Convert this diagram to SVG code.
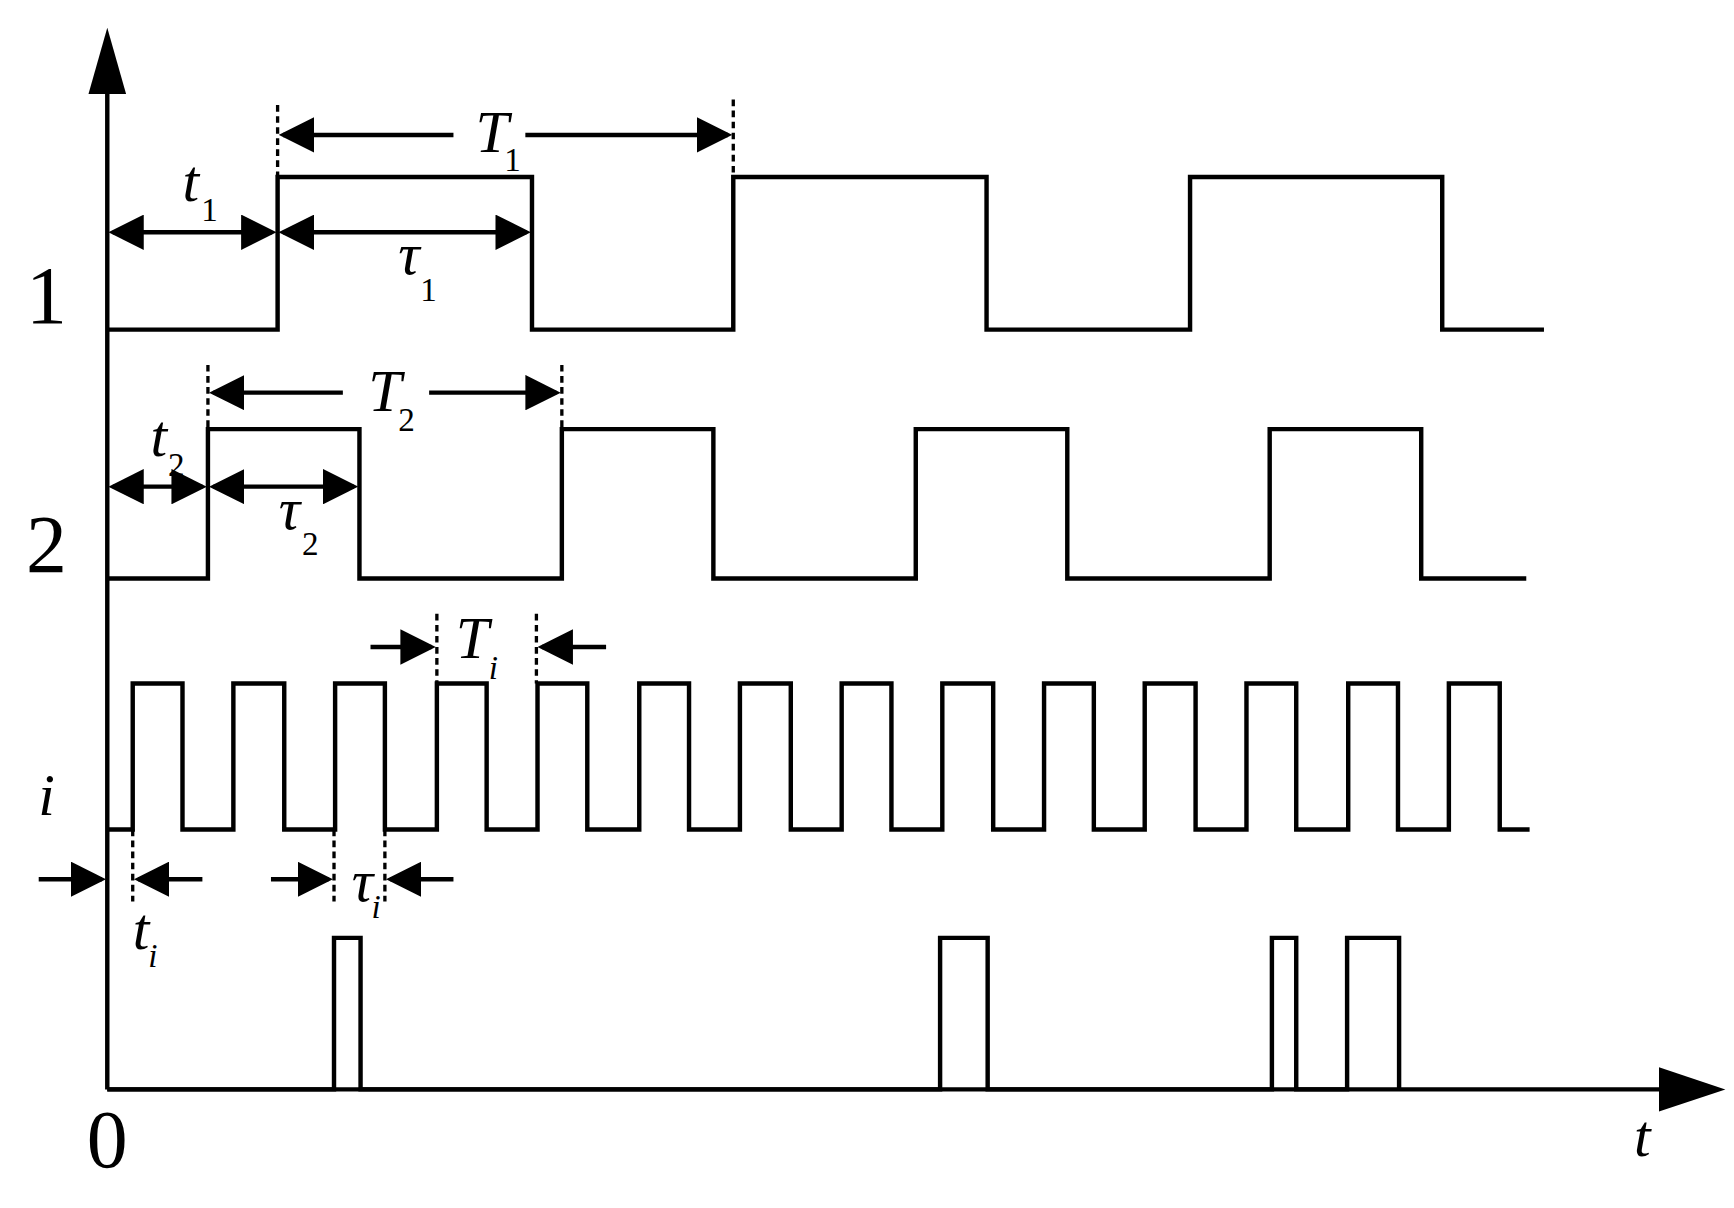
<svg xmlns="http://www.w3.org/2000/svg" width="1734" height="1208" viewBox="0 0 1734 1208">
<style>
.w{fill:none;stroke:#000;stroke-width:4;stroke-linejoin:miter}
.d{fill:none;stroke:#000;stroke-width:3;stroke-dasharray:6 4}
.a{fill:none;stroke:#000;stroke-width:4}
.v{font-family:"Liberation Serif",serif;font-style:italic;font-size:54px}
.n{font-family:"Liberation Serif",serif;font-size:74px}
.s{font-family:"Liberation Serif",serif;font-size:30px}
</style>
<defs>
<marker id="ah" markerWidth="8" markerHeight="8" refX="7" refY="4" orient="auto-start-reverse" markerUnits="strokeWidth"><path d="M0,0 L8,4 L0,8 Z" fill="#000"/></marker>
</defs>
<rect width="1734" height="1208" fill="#fff"/>
<g transform="scale(1.106)">
<g id="axes">
<path class="w" d="M97,985 V80 M97,985 H1505"/>
<path d="M80,85 L97,25 L114,85 Z" fill="#000"/>
<path d="M1500,965 L1560,985 L1500,1005 Z" fill="#000"/>
</g>
<g id="signal1"><path class="w" d="M97,298 H251 V160 H481 V298 H663 V160 H892 V298 H1076 V160 H1304 V298 H1396"/></g>
<g id="signal2"><path class="w" d="M97,523 H188 V388 H325 V523 H508 V388 H645 V523 H828 V388 H965 V523 H1148 V388 H1285 V523 H1380"/></g>
<g id="signali"><path class="w" d="M97,750 H120 V618 H165 V750 H211 V618 H257 V750 H303 V618 H348 V750 H395 V618 H440 V750 H486 V618 H531 V750 H578 V618 H623 V750 H669 V618 H715 V750 H761 V618 H806 V750 H852 V618 H898 V750 H944 V618 H989 V750 H1035 V618 H1081 V750 H1127 V618 H1172 V750 H1219 V618 H1264 V750 H1310 V618 H1356 V750 H1383"/></g>
<g id="output"><path class="w" d="M97,985 H302 V848 H326 V985 H850 V848 H893 V985 H1150 V848 H1172 V985 H1218 V848 H1265 V985"/></g>
<g id="connectors">
<path class="d" d="M251,95 V160 M663,90 V160 M188,330 V388 M508,330 V388 M395,555 V618 M485,555 V618 M120,750 V815 M302,750 V815 M348,750 V815"/>
<path class="a" d="M410,122 H256" marker-end="url(#ah)"/>
<path class="a" d="M475,122 H658" marker-end="url(#ah)"/>
<path class="a" d="M102,210 H246" marker-start="url(#ah)" marker-end="url(#ah)"/>
<path class="a" d="M256,210 H476" marker-start="url(#ah)" marker-end="url(#ah)"/>
<path class="a" d="M310,355 H193" marker-end="url(#ah)"/>
<path class="a" d="M388,355 H503" marker-end="url(#ah)"/>
<path class="a" d="M102,440 H183" marker-start="url(#ah)" marker-end="url(#ah)"/>
<path class="a" d="M193,440 H320" marker-start="url(#ah)" marker-end="url(#ah)"/>
<path class="a" d="M335,585 H390" marker-end="url(#ah)"/>
<path class="a" d="M548,585 H490" marker-end="url(#ah)"/>
<path class="a" d="M35,795 H92" marker-end="url(#ah)"/>
<path class="a" d="M183,795 H125" marker-end="url(#ah)"/>
<path class="a" d="M245,795 H297" marker-end="url(#ah)"/>
<path class="a" d="M410,795 H353" marker-end="url(#ah)"/>
</g>
<g id="labels">
<text class="n" x="42" y="292" text-anchor="middle">1</text>
<text class="n" x="42" y="517" text-anchor="middle">2</text>
<text class="v" x="42" y="737" text-anchor="middle" font-size="66">i</text>
<text class="n" x="97" y="1055" text-anchor="middle">0</text>
<text class="v" x="1485" y="1045" text-anchor="middle" font-size="66">t</text>
<text class="v" x="430" y="137">T</text><text class="s" x="456" y="155">1</text>
<text class="v" x="165" y="182">t</text><text class="s" x="182" y="200">1</text>
<text class="v" x="360" y="248">τ</text><text class="s" x="380" y="272">1</text>
<text class="v" x="333" y="372">T</text><text class="s" x="360" y="390">2</text>
<text class="v" x="136" y="412">t</text><text class="s" x="152" y="430">2</text>
<text class="v" x="252" y="478">τ</text><text class="s" x="273" y="502">2</text>
<text class="v" x="412" y="595">T</text><text class="s" x="442" y="614" font-style="italic" font-size="24">i</text>
<text class="v" x="120" y="858">t</text><text class="s" x="134" y="874" font-style="italic" font-size="24">i</text>
<text class="v" x="318" y="815">τ</text><text class="s" x="336" y="830" font-style="italic" font-size="24">i</text>
</g>
</g>
</svg>
